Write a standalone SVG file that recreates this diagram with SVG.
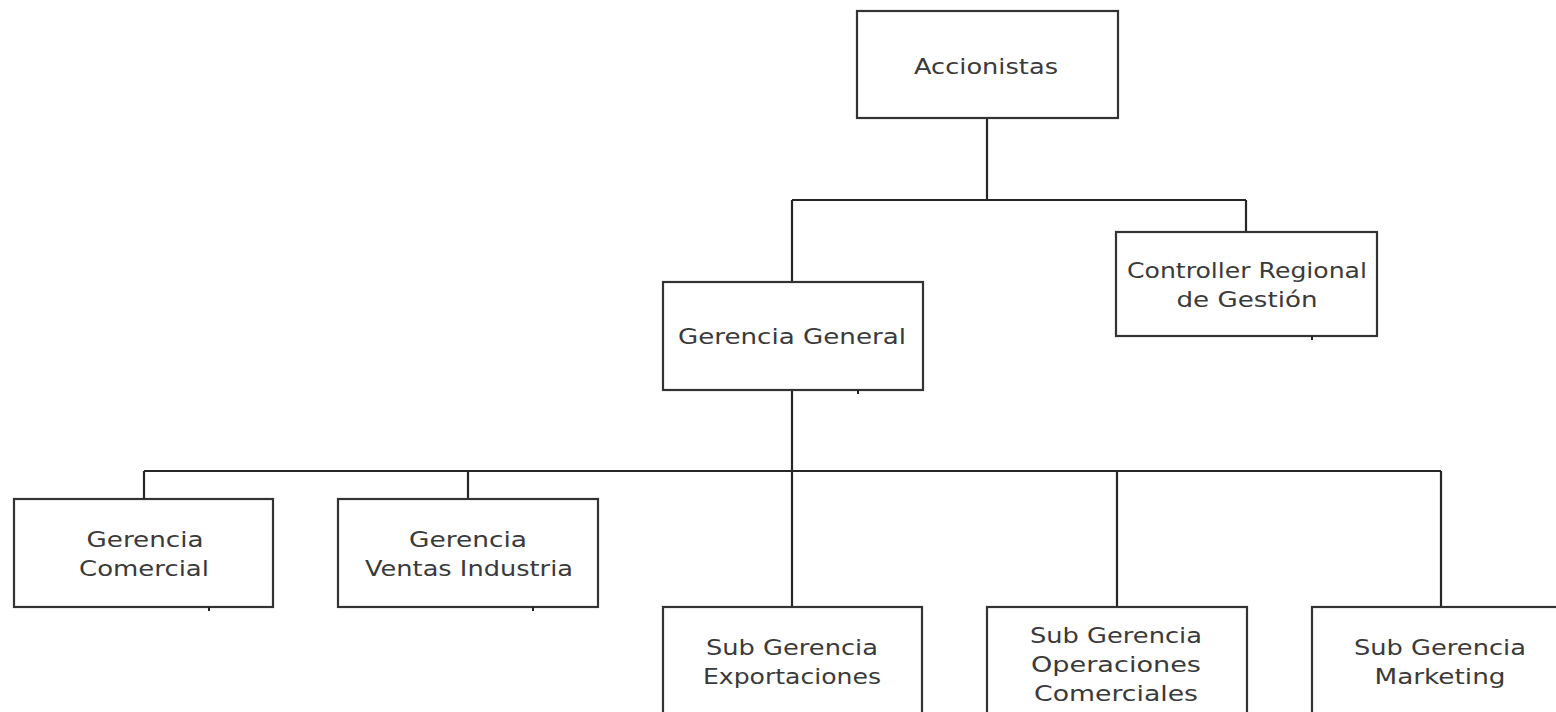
<svg xmlns="http://www.w3.org/2000/svg" width="1556" height="712" viewBox="0 0 1556 712">
<style>
.box{fill:#fff;stroke:#333;stroke-width:2.2}
.tick{stroke:#222;stroke-width:2}
.lbl{font-family:"DejaVu Sans",sans-serif;font-size:21px;fill:#3a3a3a;text-anchor:middle}
.conn{fill:none;stroke:#262626;stroke-width:2.2}
</style>
<rect width="1556" height="712" fill="#fff"/>
<g id="connectors" class="conn">
<path d="M987 118V200M792 200H1246M792 200V282M1246 200V232"/>
<path d="M792 390V607M144 471H1441M144 471V499M468 471V499M1117 471V607M1441 471V607"/>
</g>
<g id="accionistas">
<rect class="box" x="857" y="11" width="261" height="107"/>
<text class="lbl" x="986" y="74" textLength="144" lengthAdjust="spacingAndGlyphs">Accionistas</text>
</g>
<g id="controller">
<rect class="box" x="1116" y="232" width="261" height="104"/>
<line class="tick" x1="1312" y1="336" x2="1312" y2="340"/>
<text class="lbl" x="1247" y="278" textLength="240" lengthAdjust="spacingAndGlyphs">Controller Regional</text>
<text class="lbl" x="1247" y="307" textLength="141" lengthAdjust="spacingAndGlyphs">de Gestión</text>
</g>
<g id="gerencia-general">
<rect class="box" x="663" y="282" width="260" height="108"/>
<line class="tick" x1="858" y1="390" x2="858" y2="394"/>
<text class="lbl" x="792" y="344" textLength="228" lengthAdjust="spacingAndGlyphs">Gerencia General</text>
</g>
<g id="gerencia-comercial">
<rect class="box" x="14" y="499" width="259" height="108"/>
<line class="tick" x1="209" y1="607" x2="209" y2="611"/>
<text class="lbl" x="145" y="547" textLength="117" lengthAdjust="spacingAndGlyphs">Gerencia</text>
<text class="lbl" x="144" y="576" textLength="130" lengthAdjust="spacingAndGlyphs">Comercial</text>
</g>
<g id="gerencia-ventas-industria">
<rect class="box" x="338" y="499" width="260" height="108"/>
<line class="tick" x1="533" y1="607" x2="533" y2="611"/>
<text class="lbl" x="468" y="547" textLength="118" lengthAdjust="spacingAndGlyphs">Gerencia</text>
<text class="lbl" x="469" y="576" textLength="208" lengthAdjust="spacingAndGlyphs">Ventas Industria</text>
</g>
<g id="sub-gerencia-exportaciones">
<rect class="box" x="663" y="607" width="259" height="130"/>
<text class="lbl" x="792" y="655" textLength="172" lengthAdjust="spacingAndGlyphs">Sub Gerencia</text>
<text class="lbl" x="792" y="684" textLength="178" lengthAdjust="spacingAndGlyphs">Exportaciones</text>
</g>
<g id="sub-gerencia-operaciones">
<rect class="box" x="987" y="607" width="260" height="130"/>
<text class="lbl" x="1116" y="643" textLength="172" lengthAdjust="spacingAndGlyphs">Sub Gerencia</text>
<text class="lbl" x="1116" y="672" textLength="170" lengthAdjust="spacingAndGlyphs">Operaciones</text>
<text class="lbl" x="1116" y="701" textLength="164" lengthAdjust="spacingAndGlyphs">Comerciales</text>
</g>
<g id="sub-gerencia-marketing">
<rect class="box" x="1312" y="607" width="260" height="130"/>
<text class="lbl" x="1440" y="655" textLength="172" lengthAdjust="spacingAndGlyphs">Sub Gerencia</text>
<text class="lbl" x="1440" y="684" textLength="131" lengthAdjust="spacingAndGlyphs">Marketing</text>
</g>
</svg>
